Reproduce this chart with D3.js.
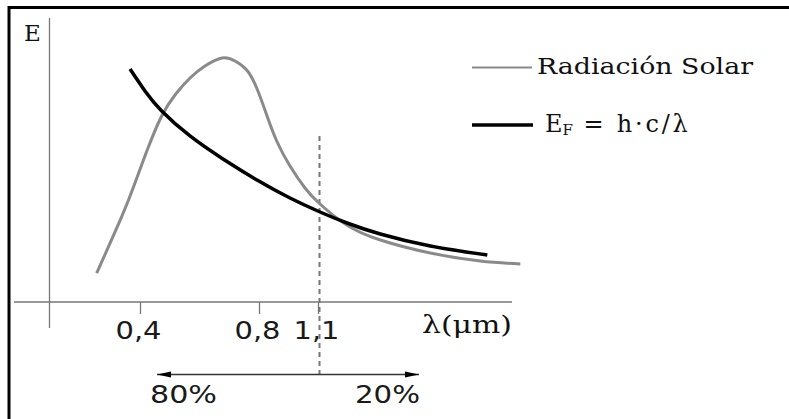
<!DOCTYPE html>
<html>
<head>
<meta charset="utf-8">
<script src="https://cdn.jsdelivr.net/npm/d3@7"></script>
<style>
  html, body { margin: 0; padding: 0; background: #fff; }
  svg { display: block; }
</style>
</head>
<body>
<svg id="chart" width="789" height="419"></svg>
<script>
// ---- data (λ in µm, E in arbitrary units) ----
const tickValues = [0.4, 0.8, 1.1];
const tickLabels = ["0,4", "0,8", "1,1"];
const solarLambda = [0.2545, 0.3385, 0.3832, 0.4269, 0.4729, 0.5176, 0.5681, 0.6185, 0.6756, 0.7193, 0.7587, 0.7923, 0.8392, 0.8900, 0.9576, 1.0339, 1.1102, 1.2459, 1.4169, 1.6712, 1.9254, 2.1288];
const solarE      = [11.15, 32.81, 45.77, 59.23, 71.54, 79.62, 86.15, 90.77, 93.85, 92.69, 89.23, 82.31, 71.92, 61.92, 52.31, 43.85, 37.69, 29.62, 23.85, 18.85, 15.77, 14.62];
const photonLambda = [0.3664, 0.4168, 0.4729, 0.5681, 0.6790, 0.7933, 0.9576, 1.1102, 1.2475, 1.4169, 1.6712, 1.9610];
const photonE      = [89.62, 81.15, 73.46, 63.85, 55.0, 46.92, 40.0, 34.62, 30.38, 26.15, 21.54, 18.08];
const cutLambda = 1.1;
const shareLabels = ["80%", "20%"];
const legendLabels = ["Radiación Solar", "E_F = h·c/λ"];
const axisLabels = ["E", "λ(μm)"];

// ---- scales ----
const svg = d3.select("#chart");
const x = d3.scaleLinear().domain([0.4, 0.8, 1.1]).range([140, 259, 318]);
const y = d3.scaleLinear().domain([0, 100]).range([302, 42]);

// frame
svg.append("rect").attr("x", 9).attr("y", 7.5).attr("width", 900).attr("height", 500)
  .attr("fill", "none").attr("stroke", "#000").attr("stroke-width", 3);

// axes lines
svg.append("line").attr("x1", 14).attr("x2", 512).attr("y1", y(0)).attr("y2", y(0))
  .attr("stroke", "#777").attr("stroke-width", 1.3);
svg.append("line").attr("x1", 49.5).attr("x2", 49.5).attr("y1", 18).attr("y2", 328)
  .attr("stroke", "#777").attr("stroke-width", 1.3);

// x axis ticks
const xAxis = d3.axisBottom(x).tickValues(tickValues).tickSize(12).tickPadding(7)
  .tickFormat((d, i) => tickLabels[i]);
const gx = svg.append("g").attr("transform", `translate(0,${y(0)})`).call(xAxis);
gx.select(".domain").remove();
gx.selectAll(".tick line").attr("stroke", "#777").attr("stroke-width", 1.3);
gx.selectAll(".tick text").attr("font-family", "DejaVu Sans").attr("font-size", 25)
  .attr("fill", "#1a1a1a").attr("textLength", 46).attr("lengthAdjust", "spacingAndGlyphs")
  .attr("x", -2);

// dashed cut line
svg.append("line").attr("x1", x(cutLambda) + 1.5).attr("x2", x(cutLambda) + 1.5)
  .attr("y1", 136).attr("y2", 375)
  .attr("stroke", "#777").attr("stroke-width", 2).attr("stroke-dasharray", "5,4");

// curves
const line = d3.line().x(d => x(d[0])).y(d => y(d[1])).curve(d3.curveNatural);
svg.append("path").datum(solarLambda.map((l, i) => [l, solarE[i]]))
  .attr("d", line).attr("fill", "none").attr("stroke", "#8a8a8a").attr("stroke-width", 3);
svg.append("path").datum(photonLambda.map((l, i) => [l, photonE[i]]))
  .attr("d", line).attr("fill", "none").attr("stroke", "#000").attr("stroke-width", 3.5);

// arrow
const defs = svg.append("defs");
["start", "end"].forEach(k => {
  defs.append("marker").attr("id", "arr-" + k)
    .attr("viewBox", "0 0 14 8").attr("refX", k === "end" ? 14 : 0).attr("refY", 4)
    .attr("markerWidth", 14).attr("markerHeight", 8).attr("markerUnits", "userSpaceOnUse")
    .attr("orient", "auto")
    .append("path").attr("d", k === "end" ? "M0,1 L14,4 L0,7 Z" : "M14,1 L0,4 L14,7 Z").attr("fill", "#000");
});
svg.append("line").attr("x1", 157).attr("x2", 419).attr("y1", 374.5).attr("y2", 374.5)
  .attr("stroke", "#333").attr("stroke-width", 1.5)
  .attr("marker-start", "url(#arr-start)").attr("marker-end", "url(#arr-end)");

svg.append("text").attr("x", 150).attr("y", 403)
  .attr("font-family", "DejaVu Sans").attr("font-size", 24)
  .attr("textLength", 67).attr("lengthAdjust", "spacingAndGlyphs")
  .attr("fill", "#1a1a1a").text(shareLabels[0]);
svg.append("text").attr("x", 355).attr("y", 403)
  .attr("font-family", "DejaVu Sans").attr("font-size", 24)
  .attr("textLength", 65).attr("lengthAdjust", "spacingAndGlyphs")
  .attr("fill", "#1a1a1a").text(shareLabels[1]);

// axis labels
svg.append("text").attr("x", 24).attr("y", 41).attr("font-family", "DejaVu Serif")
  .attr("font-size", 23).attr("fill", "#111").text(axisLabels[0]);
svg.append("text").attr("x", 422).attr("y", 333).attr("font-family", "DejaVu Serif")
  .attr("font-size", 25).attr("fill", "#111").attr("textLength", 90)
  .attr("lengthAdjust", "spacingAndGlyphs").text(axisLabels[1]);

// legend
svg.append("line").attr("x1", 472).attr("x2", 532).attr("y1", 67.5).attr("y2", 67.5)
  .attr("stroke", "#8a8a8a").attr("stroke-width", 2);
svg.append("text").attr("x", 537).attr("y", 74).attr("font-family", "DejaVu Serif")
  .attr("font-size", 22).attr("fill", "#111")
  .attr("textLength", 216).attr("lengthAdjust", "spacingAndGlyphs").text(legendLabels[0]);
svg.append("line").attr("x1", 472).attr("x2", 533).attr("y1", 125).attr("y2", 125)
  .attr("stroke", "#000").attr("stroke-width", 3.5);
const parts = legendLabels[1].split("_");
const ef = svg.append("text").attr("x", 545).attr("y", 132).attr("font-family", "DejaVu Serif")
  .attr("font-size", 24).attr("fill", "#111");
ef.append("tspan").text(parts[0]);
ef.append("tspan").attr("font-size", 15).attr("dy", 3).text(parts[1].charAt(0));
ef.append("tspan").attr("dy", -3).attr("letter-spacing", 2.8).text(parts[1].slice(1));
</script>
</body>
</html>
